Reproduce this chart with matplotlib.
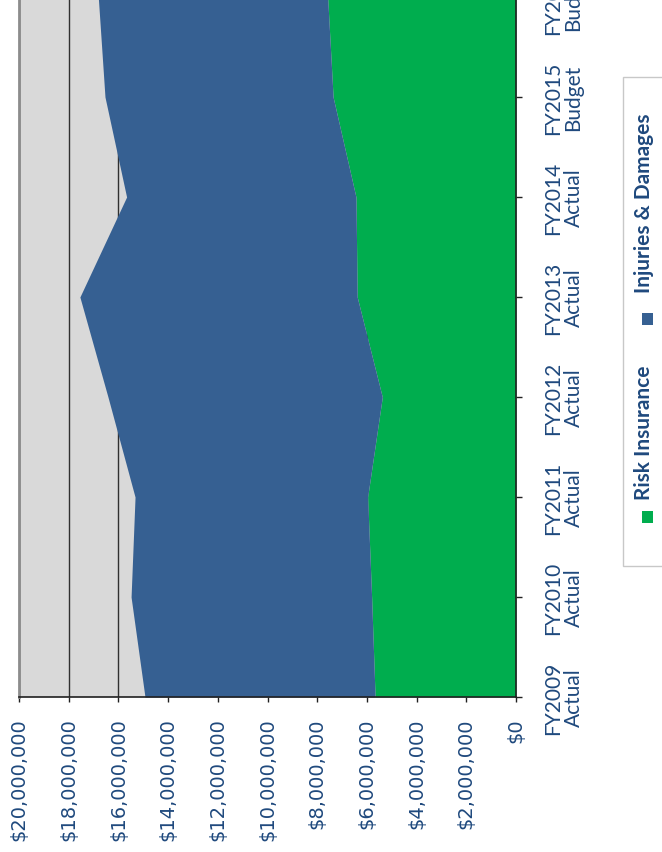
import numpy as np
import matplotlib
matplotlib.use("Agg")
import matplotlib.pyplot as plt
from matplotlib.patches import Rectangle

# Fiscal years and their stacked cost components (US dollars)
categories = ["FY2009\nActual", "FY2010\nActual", "FY2011\nActual", "FY2012\nActual",
              "FY2013\nActual", "FY2014\nActual", "FY2015\nBudget", "FY2016\nBudget"]
risk_insurance = [5.67e6, 5.81e6, 5.97e6, 5.38e6, 6.39e6, 6.44e6, 7.36e6, 7.58e6]
injuries_damages = [9.26e6, 9.68e6, 9.36e6, 11.04e6, 11.16e6, 9.23e6, 9.18e6, 9.23e6]
series_names = ["Risk Insurance", "Injuries & Damages"]
dollar_ticks = [0, 2e6, 4e6, 6e6, 8e6, 10e6, 12e6, 14e6, 16e6, 18e6, 20e6]
title = "FY 2009 - FY 2016 Budget"

GREEN = "#00AD4E"
BLUE = "#366092"
PLOT_BG = "#D9D9D9"
TEXT = "#1F497D"

W, H = 662, 853
fig = plt.figure(figsize=(W / 100, H / 100), dpi=100)
fig.patch.set_facecolor("white")


def fx(px):
    return px / W


def fy(py):
    return 1 - py / H


# The chart is laid out turned a quarter turn: categories run up the page,
# dollar values run right-to-left.
ax = fig.add_axes([fx(19), fy(698), fx(516) - fx(19), (698 + 2) / H])
ax.set_facecolor(PLOT_BG)

ypos = np.arange(len(categories))
risk = np.array(risk_insurance)
total = risk + np.array(injuries_damages)
ax.fill_betweenx(ypos, 0, risk, color=GREEN, lw=0, zorder=2)
ax.fill_betweenx(ypos, risk, total, color=BLUE, lw=0, zorder=2)

ax.set_xlim(20e6, 0)
ax.set_ylim(0, len(categories) - 1)

ax.set_axisbelow(True)
ax.set_xticks(dollar_ticks)
ax.set_xticklabels([f"${v:,.0f}" for v in dollar_ticks], rotation=90,
                   fontsize=14, color=TEXT, family="DejaVu Sans")
ax.xaxis.grid(True, color="#303030", lw=1.0, zorder=0)
ax.tick_params(axis="x", direction="out", length=3.8, width=1.0, color="#202020", pad=11)

ax.yaxis.set_ticks_position("right")
ax.set_yticks(ypos)
ax.set_yticklabels(categories, rotation=90, fontsize=15, color=TEXT, family="Lato",
                   va="center", ha="left", multialignment="center", linespacing=1.05)
ax.tick_params(axis="y", direction="out", length=4.3, width=1.0, color="#202020", pad=15)

ax.spines["top"].set_visible(False)
ax.spines["left"].set_color("#8C8C8C")
ax.spines["left"].set_linewidth(2.0)
ax.spines["right"].set_color("#202020")
ax.spines["right"].set_linewidth(1.2)
ax.spines["bottom"].set_color("#202020")
ax.spines["bottom"].set_linewidth(1.2)

# Title along the left edge (mostly outside the canvas)
fig.text(fx(-5), fy(379), title, rotation=90, rotation_mode="anchor",
         ha="center", va="baseline", fontsize=27.5, fontweight="bold",
         color=TEXT, family="Lato")

# Legend box, turned with the chart
fig.patches.append(Rectangle((fx(623), fy(567)), fx(700) - fx(623), (567 - 78) / H,
                             transform=fig.transFigure, facecolor="white",
                             edgecolor="#C8C8C8", lw=1.0, zorder=1))
legend_items = [(series_names[0], GREEN, 518, 500), (series_names[1], BLUE, 320, 293)]
for name, color, sq_y, text_y in legend_items:
    fig.patches.append(Rectangle((fx(641.5), fy(sq_y + 6)), 11 / W, 12 / H,
                                 transform=fig.transFigure, facecolor=color,
                                 edgecolor="none", zorder=2))
    fig.text(fx(650), fy(text_y), name, rotation=90, rotation_mode="anchor",
             ha="left", va="baseline", fontsize=15, fontweight="bold",
             color=TEXT, family="Lato", zorder=3)

fig.savefig("out.png", dpi=100)
